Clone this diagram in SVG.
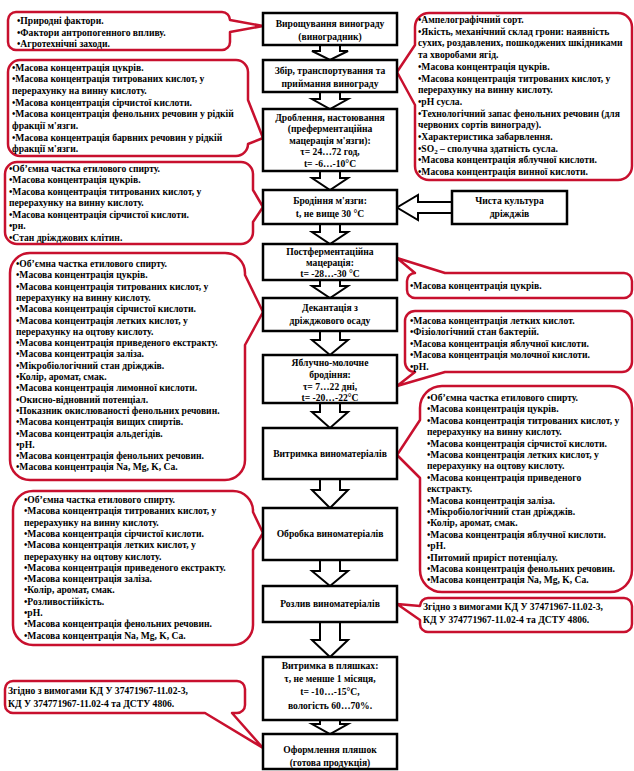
<svg xmlns="http://www.w3.org/2000/svg" width="634" height="771" viewBox="0 0 634 771">
<style>
.box{fill:#fff;stroke:#000;stroke-width:2.5}
.co{fill:#fff;stroke:#c8102e;stroke-width:2.5;stroke-linejoin:round}
.arr{fill:#fff;stroke:#000;stroke-width:2;stroke-linejoin:miter}
text{font-family:"Liberation Serif","DejaVu Serif",serif;font-weight:bold;font-size:9.6px;fill:#000}
.c{text-anchor:middle}
</style>
<rect width="634" height="771" fill="#fff"/>

<g id="callouts">
<g id="note-factors">
<path class="co" d="M16,12 H222 A8 8 0 0 1 230,20 L263,26 L230,32 V42 A8 8 0 0 1 222,50 H16 A8 8 0 0 1 8,42 V20 A8 8 0 0 1 16,12 Z"/>
<text x="17" y="24">•Природні фактори.</text>
<text x="17" y="35.5">•Фактори антропогенного впливу.</text>
<text x="17" y="47">•Агротехнічні заходи.</text>
</g>
<g id="note-grapes">
<path class="co" d="M429,13 H618 A14 14 0 0 1 632,27 V166 A14 14 0 0 1 618,180 H429 A14 14 0 0 1 415,166 V105 L397,72 L415,45 V27 A14 14 0 0 1 429,13 Z"/>
<text x="418" y="23">•Ампелографічний сорт.</text>
<text x="418" y="34.7">•Якість, механічний склад грони: наявність</text>
<text x="418" y="46.4">сухих, роздавлених, пошкоджених шкідниками</text>
<text x="418" y="58.1">та хворобами ягід.</text>
<text x="418" y="69.8">•Масова концентрація цукрів.</text>
<text x="418" y="81.5">•Масова концентрація титрованих кислот, у</text>
<text x="418" y="93.2">перерахунку на винну кислоту.</text>
<text x="418" y="104.9">•pH сусла.</text>
<text x="418" y="116.6">•Технологічний запас фенольних речовин (для</text>
<text x="418" y="128.3">червоних сортів винограду).</text>
<text x="418" y="140">•Характеристика забарвлення.</text>
<text x="418" y="151.7">•SO<tspan font-size="7" dy="2">2</tspan><tspan dy="-2"> – сполучна здатність сусла.</tspan></text>
<text x="418" y="163.4">•Масова концентрація яблучної кислоти.</text>
<text x="418" y="175.1">•Масова концентрація винної кислоти.</text>
</g>
<g id="note-crushing">
<path class="co" d="M20,60 H236 A12 12 0 0 1 248,72 V100 L263,138 L248,144 A12 12 0 0 1 236,156 H20 A12 12 0 0 1 8,144 V72 A12 12 0 0 1 20,60 Z"/>
<text x="12" y="70.5">•Масова концентрація цукрів.</text>
<text x="12" y="82.2">•Масова концентрація титрованих кислот, у</text>
<text x="12" y="93.9">перерахунку на винну кислоту.</text>
<text x="12" y="105.6">•Масова концентрація сірчистої кислоти.</text>
<text x="12" y="117.3">•Масова концентрація фенольних речовин у рідкій</text>
<text x="12" y="129">фракції м'язги.</text>
<text x="12" y="140.7">•Масова концентрація барвних речовин у рідкій</text>
<text x="12" y="152.4">фракції м'язги.</text>
</g>
<g id="note-fermentation">
<path class="co" d="M17,162 H241 A12 12 0 0 1 253,174 V190 L263,207 L253,222 V232 A12 12 0 0 1 241,244 H17 A12 12 0 0 1 5,232 V174 A12 12 0 0 1 17,162 Z"/>
<text x="9" y="171.5">•Об’ємна частка етилового спирту.</text>
<text x="9" y="183">•Масова концентрація цукрів.</text>
<text x="9" y="194.5">•Масова концентрація титрованих кислот, у</text>
<text x="9" y="206">перерахунку на винну кислоту.</text>
<text x="9" y="217.5">•Масова концентрація сірчистої кислоти.</text>
<text x="9" y="229">•рн.</text>
<text x="9" y="240.5">•Стан дріжджових клітин.</text>
</g>
<g id="note-decanting">
<path class="co" d="M30,253 H225 A20 20 0 0 1 245,273 V275 L263,312 L245,345 V460 A20 20 0 0 1 225,480 H30 A20 20 0 0 1 10,460 V273 A20 20 0 0 1 30,253 Z"/>
<text x="16" y="267">•Об’ємна частка етилового спирту.</text>
<text x="16" y="278.3">•Масова концентрація цукрів.</text>
<text x="16" y="289.6">•Масова концентрація титрованих кислот, у</text>
<text x="16" y="300.9">перерахунку на винну кислоту.</text>
<text x="16" y="312.2">•Масова концентрація сірчистої кислоти.</text>
<text x="16" y="323.5">•Масова концентрація летких кислот, у</text>
<text x="16" y="334.8">перерахунку на оцтову кислоту.</text>
<text x="16" y="346.1">•Масова концентрація приведеного екстракту.</text>
<text x="16" y="357.4">•Масова концентрація заліза.</text>
<text x="16" y="368.7">•Мікробіологічний стан дріжджів.</text>
<text x="16" y="380">•Колір, аромат, смак.</text>
<text x="16" y="391.3">•Масова концентрація лимонної кислоти.</text>
<text x="16" y="402.6">•Окисно-відновний потенціал.</text>
<text x="16" y="413.9">•Показник окислюваності фенольних речовин.</text>
<text x="16" y="425.2">•Масова концентрація вищих спиртів.</text>
<text x="16" y="436.5">•Масова концентрація альдегідів.</text>
<text x="16" y="447.8">•pH.</text>
<text x="16" y="459.1">•Масова концентрація фенольних речовин.</text>
<text x="16" y="470.4">•Масова концентрація Na, Mg, K, Ca.</text>
</g>
<g id="note-postmaceration">
<path class="co" d="M415,273 L397,258 L445,273 H624 A8 8 0 0 1 632,281 V290 A8 8 0 0 1 624,298 H415 A8 8 0 0 1 407,290 V281 A8 8 0 0 1 415,273 Z"/>
<text x="410" y="288.5">•Масова концентрація цукрів.</text>
</g>
<g id="note-malolactic">
<path class="co" d="M415,311 H622 A10 10 0 0 1 632,321 V362 A10 10 0 0 1 622,372 H445 L397,386 L415,372 A10 10 0 0 1 405,362 V321 A10 10 0 0 1 415,311 Z"/>
<text x="410" y="323.5">•Масова концентрація летких кислот.</text>
<text x="410" y="335">•Фізіологічний стан бактерій.</text>
<text x="410" y="346.5">•Масова концентрація яблучної кислоти.</text>
<text x="410" y="358">•Масова концентрація молочної кислоти.</text>
<text x="410" y="369.5">•pH.</text>
</g>
<g id="note-aging">
<path class="co" d="M442,386 H610 A22 22 0 0 1 632,408 V570 A22 22 0 0 1 610,592 H442 A22 22 0 0 1 420,570 V478 L397,455 L420,420 V408 A22 22 0 0 1 442,386 Z"/>
<text x="427" y="401">•Об’ємна частка етилового спирту.</text>
<text x="427" y="412.4">•Масова концентрація цукрів.</text>
<text x="427" y="423.8">•Масова концентрація титрованих кислот, у</text>
<text x="427" y="435.2">перерахунку на винну кислоту.</text>
<text x="427" y="446.6">•Масова концентрація сірчистої кислоти.</text>
<text x="427" y="458">•Масова концентрація летких кислот, у</text>
<text x="427" y="469.4">перерахунку на оцтову кислоту.</text>
<text x="427" y="480.8">•Масова концентрація приведеного</text>
<text x="427" y="492.2">екстракту.</text>
<text x="427" y="503.6">•Масова концентрація заліза.</text>
<text x="427" y="515">•Мікробіологічний стан дріжджів.</text>
<text x="427" y="526.4">•Колір, аромат, смак.</text>
<text x="427" y="537.8">•Масова концентрація яблучної кислоти.</text>
<text x="427" y="549.2">•pH.</text>
<text x="427" y="560.6">•Питомий приріст потенціалу.</text>
<text x="427" y="572">•Масова концентрація фенольних речовин.</text>
<text x="427" y="583.4">•Масова концентрація Na, Mg, K, Ca.</text>
</g>
<g id="note-treatment">
<path class="co" d="M33,491 H233 A20 20 0 0 1 253,511 V512 L263,533 L253,550 V625 A20 20 0 0 1 233,645 H33 A20 20 0 0 1 13,625 V511 A20 20 0 0 1 33,491 Z"/>
<text x="24" y="503">•Об’ємна частка етилового спирту.</text>
<text x="24" y="514.3">•Масова концентрація титрованих кислот, у</text>
<text x="24" y="525.6">перерахунку на винну кислоту.</text>
<text x="24" y="536.9">•Масова концентрація сірчистої кислоти.</text>
<text x="24" y="548.2">•Масова концентрація летких кислот, у</text>
<text x="24" y="559.5">перерахунку на оцтову кислоту.</text>
<text x="24" y="570.8">•Масова концентрація приведеного екстракту.</text>
<text x="24" y="582.1">•Масова концентрація заліза.</text>
<text x="24" y="593.4">•Колір, аромат, смак.</text>
<text x="24" y="604.7">•Розливостійкість.</text>
<text x="24" y="616">•pH.</text>
<text x="24" y="627.3">•Масова концентрація фенольних речовин.</text>
<text x="24" y="638.6">•Масова концентрація Na, Mg, K, Ca.</text>
</g>
<g id="note-bottling">
<path class="co" d="M428,598 H624 A8 8 0 0 1 632,606 V624 A8 8 0 0 1 624,632 H428 A8 8 0 0 1 420,624 V620 L397,604 L420,606 A8 8 0 0 1 428,598 Z"/>
<text x="423" y="610">Згідно з вимогами КД У 37471967-11.02-3,</text>
<text x="423" y="623">КД У 374771967-11.02-4 та ДСТУ 4806.</text>
</g>
<g id="note-final">
<path class="co" d="M13,681 H237 A8 8 0 0 1 245,689 V705 A8 8 0 0 1 237,713 H232 L263,748 L205,713 H13 A8 8 0 0 1 5,705 V689 A8 8 0 0 1 13,681 Z"/>
<text x="8" y="694">Згідно з вимогами КД У 37471967-11.02-3,</text>
<text x="8" y="707">КД У 374771967-11.02-4 та ДСТУ 4806.</text>
</g>
</g>

<g id="connectors">
<polygon class="arr" points="320,45 340,45 340,51 348,51 330,60 312,51 320,51"/>
<polygon class="arr" points="320,92 340,92 340,99 348,99 330,109 312,99 320,99"/>
<polygon class="arr" points="320,171 340,171 340,178 348,178 330,190 312,178 320,178"/>
<polygon class="arr" points="320,224 340,224 340,232 348,232 330,244 312,232 320,232"/>
<polygon class="arr" points="320,280 340,280 340,286 348,286 330,298 312,286 320,286"/>
<polygon class="arr" points="320,331 340,331 340,340 348,340 330,355 312,340 320,340"/>
<polygon class="arr" points="320,403 340,403 340,412 348,412 330,428 312,412 320,412"/>
<polygon class="arr" points="320,479 340,479 340,490 348,490 330,508 312,490 320,490"/>
<polygon class="arr" points="320,560 340,560 340,571 348,571 330,586 312,571 320,571"/>
<polygon class="arr" points="320,622 340,622 340,640 348,640 330,657 312,640 320,640"/>
<polygon class="arr" points="320,720 340,720 340,724 348,724 330,734 312,724 320,724"/>
<polygon class="arr" points="452,202 418,202 418,195 397,207.5 418,220 418,213 452,213"/>
</g>

<g id="n1"><rect class="box" x="263" y="13" width="134" height="32"/>
<text class="c" x="330" y="27">Вирощування винограду</text>
<text class="c" x="330" y="40">(виноградник)</text></g>
<g id="n2"><rect class="box" x="263" y="60" width="134" height="32"/>
<text class="c" x="330" y="74">Збір, транспортування та</text>
<text class="c" x="330" y="87">приймання винограду</text></g>
<g id="n3"><rect class="box" x="263" y="109" width="134" height="62"/>
<text class="c" x="330" y="120.5">Дроблення, настоювання</text>
<text class="c" x="330" y="132">(преферментаційна</text>
<text class="c" x="330" y="143.5">мацерація м'язги):</text>
<text class="c" x="330" y="155">τ= 24…72 год,</text>
<text class="c" x="330" y="166.5">t= -6…-10°C</text></g>
<g id="n4"><rect class="box" x="263" y="190" width="134" height="34"/>
<text class="c" x="330" y="204">Бродіння м'язги:</text>
<text class="c" x="330" y="217">t, не вище 30 °C</text></g>
<g id="n4b"><rect class="box" x="452" y="191" width="115" height="33"/>
<text class="c" x="509.5" y="204">Чиста культура</text>
<text class="c" x="509.5" y="217">дріжджів</text></g>
<g id="n5"><rect class="box" x="263" y="244" width="134" height="36"/>
<text class="c" x="330" y="254.5">Постферментаційна</text>
<text class="c" x="330" y="266">мацерація:</text>
<text class="c" x="330" y="277">t= -28…-30 °C</text></g>
<g id="n6"><rect class="box" x="263" y="298" width="134" height="33"/>
<text class="c" x="330" y="311">Декантація з</text>
<text class="c" x="330" y="324">дріжджового осаду</text></g>
<g id="n7"><rect class="box" x="263" y="355" width="134" height="48"/>
<text class="c" x="330" y="366">Яблучно-молочне</text>
<text class="c" x="330" y="378">бродіння:</text>
<text class="c" x="330" y="390">τ= 7…22 дні,</text>
<text class="c" x="330" y="400.5">t= -20…-22°C</text></g>
<g id="n8"><rect class="box" x="263" y="428" width="134" height="51"/>
<text class="c" x="330" y="457">Витримка виноматеріалів</text></g>
<g id="n9"><rect class="box" x="263" y="508" width="134" height="52"/>
<text class="c" x="330" y="537">Обробка виноматеріалів</text></g>
<g id="n10"><rect class="box" x="263" y="586" width="134" height="36"/>
<text class="c" x="330" y="607">Розлив виноматеріалів</text></g>
<g id="n11"><rect class="box" x="263" y="657" width="134" height="63"/>
<text class="c" x="330" y="669">Витримка в пляшках:</text>
<text class="c" x="330" y="682">τ, не менше 1 місяця,</text>
<text class="c" x="330" y="695">t= -10…-15°C,</text>
<text class="c" x="330" y="709">вологість 60…70%.</text></g>
<g id="n12"><rect class="box" x="263" y="734" width="134" height="35"/>
<text class="c" x="330" y="753">Оформлення пляшок</text>
<text class="c" x="330" y="766">(готова продукція)</text></g>
</svg>
